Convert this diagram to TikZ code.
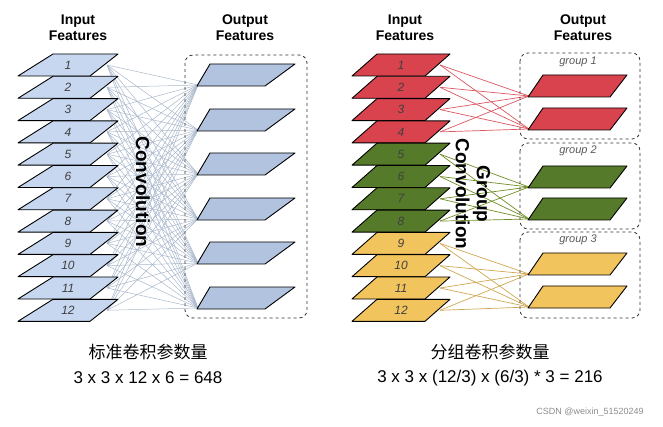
\documentclass[tikz,border=0pt]{standalone}
\usepackage{fontspec}
\setmainfont{Liberation Sans}
\newfontfamily\cjk{Noto Sans CJK SC}
\begin{document}
\begin{tikzpicture}[x=1pt,y=-1pt,
  sheet/.style={draw=black,line width=0.9pt,line join=round},
  num/.style={font=\itshape\fontsize{12}{12}\selectfont,text=black!75},
  head/.style={font=\bfseries\fontsize{14}{16}\selectfont,align=center},
  grp/.style={draw=black!80,dashed,line width=0.8pt,rounded corners=8pt},
  glab/.style={font=\itshape\fontsize{11}{11}\selectfont,text=black!65},
  bot/.style={font=\fontsize{17}{17}\selectfont}]
\definecolor{inb}{HTML}{C7D7F0}
\definecolor{outb}{HTML}{B2C3E0}
\definecolor{redf}{HTML}{D9434E}
\definecolor{grnf}{HTML}{557A2A}
\definecolor{yelf}{HTML}{F2C45E}
\definecolor{lnb}{HTML}{A9B8CB}
\useasboundingbox (0,0) rectangle (663,427);
% headers
\node[head] (h1) at (78,28) {Input\\Features};
\node[head] (h2) at (245,28) {Output\\Features};
\node[head] (h3) at (405,28) {Input\\Features};
\node[head] (h4) at (583,28) {Output\\Features};
% left panel coordinates
\foreach \i in {1,...,12}{
  \pgfmathsetmacro\c{65+22.3*(\i-1)}
  \coordinate (L\i) at (107,\c);
  \coordinate (R\i) at (440,\c);
}
\foreach \j/\c in {1/75,2/120,3/164,4/209,5/253,6/298}{
  \coordinate (LO\j) at (198,\c+10);
}
\foreach \j/\c in {1/86,2/119,3/177,4/209,5/264,6/297}{
  \coordinate (RO\j) at (529,\c+10);
}
% left connectors
\foreach \i in {1,...,12}{\foreach \j in {1,...,6}{\draw[lnb,line width=0.5pt] (L\i) -- (LO\j);}}
% right connectors
\foreach \i in {1,...,4}{\foreach \j in {1,2}{\draw[redf!90,line width=0.7pt] (R\i) -- (RO\j);}}
\foreach \i in {5,...,8}{\foreach \j in {3,4}{\draw[grnf!85!yellow,line width=0.7pt] (R\i) -- (RO\j);}}
\foreach \i in {9,...,12}{\foreach \j in {5,6}{\draw[yelf!85!black,line width=0.7pt] (R\i) -- (RO\j);}}
% input sheets
\foreach \i in {1,...,12}{
  \pgfmathsetmacro\c{65+22.3*(\i-1)}
  \filldraw[sheet,fill=inb] (53,\c-11) -- (118,\c-11) -- (90,\c+11) -- (18,\c+11) -- cycle;
  \node[num] (ln\i) at (68,\c) {\i};
  \ifnum\i<5 \def\fc{redf}\else\ifnum\i<9 \def\fc{grnf}\else\def\fc{yelf}\fi\fi
  \filldraw[sheet,fill=\fc] (377,\c-11) -- (450,\c-11) -- (425,\c+11) -- (352,\c+11) -- cycle;
  \node[num] (rn\i) at (401,\c) {\i};
}
% outputs left
\draw[grp] (185,55) rectangle (307,318);
\foreach \j/\c in {1/75,2/120,3/164,4/209,5/253,6/298}{
  \filldraw[sheet,fill=outb] (210,\c-11) -- (295,\c-11) -- (265,\c+11) -- (197,\c+11) -- cycle;
}
% outputs right
\draw[grp] (520,53) rectangle (640,139);
\draw[grp] (520,143) rectangle (640,229);
\draw[grp] (520,232) rectangle (640,318);
\node[glab] (g1) at (578,62) {group 1};
\node[glab] (g2) at (578,151) {group 2};
\node[glab] (g3) at (578,240) {group 3};
\foreach \j/\c/\fc in {1/86/redf,2/119/redf,3/177/grnf,4/209/grnf,5/264/yelf,6/297/yelf}{
  \filldraw[sheet,fill=\fc] (543,\c-11) -- (627,\c-11) -- (610,\c+11) -- (528,\c+11) -- cycle;
}
% rotated labels
\node[font=\bfseries\fontsize{19}{19}\selectfont,rotate=-90] (cv) at (143,192) {Convolution};
\node[font=\bfseries\fontsize{19}{21}\selectfont,rotate=-90,align=center] (gc) at (473,194) {Group\\Convolution};
% bottom texts
\node[bot] (b1) at (148,352) {\cjk 标准卷积参数量};
\node[bot] (b2) at (148,378) {3 x 3 x 12 x 6 = 648};
\node[bot] (b3) at (490,352) {\cjk 分组卷积参数量};
\node[bot] (b4) at (490,378) {3 x 3 x (12/3) x (6/3) * 3 = 216};
\node[font=\fontsize{9}{9}\selectfont,text=black!45] (wm) at (590,412) {CSDN @weixin\_51520249};
\end{tikzpicture}
\end{document}
